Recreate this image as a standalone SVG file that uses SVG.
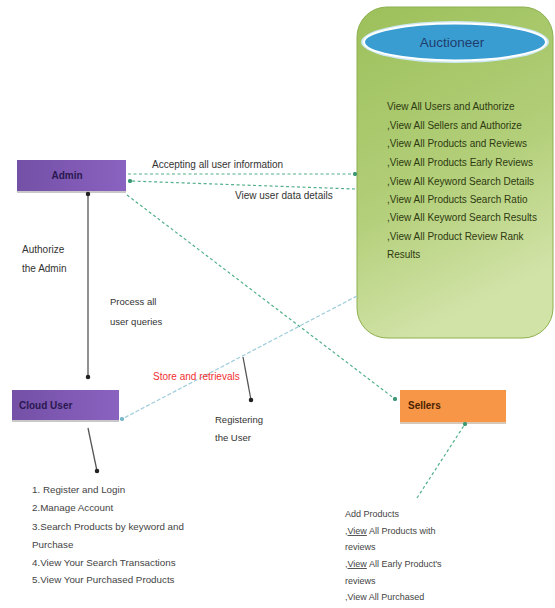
<svg xmlns="http://www.w3.org/2000/svg" width="555" height="608" viewBox="0 0 555 608">
<style>
text{font-family:"Liberation Sans",Arial,sans-serif;font-size:10px;fill:#333}
.nt{font-weight:bold;font-size:10px}
.dash{fill:none;stroke:#52B08A;stroke-width:1.2;stroke-dasharray:3 2.5}
.dashb{fill:none;stroke:#9DCCDA;stroke-width:1.2;stroke-dasharray:4 2}
.solid{fill:none;stroke:#555;stroke-width:1.3}
.auc{font-size:10px;fill:#2E3A10}
.lst{font-size:9.8px;fill:#444}
.sl{font-size:9px;fill:#444}
.lb{font-size:9.5px}
</style>
<defs>
<linearGradient id="gAuc" x1="0" y1="0" x2="0.3" y2="1">
<stop offset="0" stop-color="#9CC05A"/>
<stop offset="0.6" stop-color="#B3CF7A"/>
<stop offset="1" stop-color="#D2E3A8"/>
</linearGradient>
<linearGradient id="gPur" x1="0" y1="0" x2="1" y2="0">
<stop offset="0" stop-color="#7450A6"/>
<stop offset="1" stop-color="#8A62C0"/>
</linearGradient>
<marker id="dotG" viewBox="0 0 6 6" refX="3" refY="3" markerWidth="4" markerHeight="4"><circle cx="3" cy="3" r="2.6" fill="#3E9A74"/></marker>
<marker id="dotK" viewBox="0 0 6 6" refX="3" refY="3" markerWidth="4" markerHeight="4"><circle cx="3" cy="3" r="2.6" fill="#222"/></marker>
<marker id="dotB" viewBox="0 0 6 6" refX="3" refY="3" markerWidth="4" markerHeight="4"><circle cx="3" cy="3" r="2.6" fill="#7BB8CC"/></marker>
</defs>

<g id="auctioneer">
<rect x="357" y="7" width="196" height="331" rx="30" ry="30" fill="url(#gAuc)" stroke="#8DB04E" stroke-width="1"/>
<ellipse cx="455" cy="42" rx="94" ry="21" fill="#CFEAF6"/>
<ellipse cx="455" cy="42" rx="91" ry="18.5" fill="#3A9DD2" stroke="#FFFFFF" stroke-width="2"/>
<text x="452" y="47" text-anchor="middle" style="font-size:13.5px;fill:#1F3E6E">Auctioneer</text>
<text class="auc" x="387" y="110">View All Users and Authorize</text>
<text class="auc" x="387" y="129">,View All Sellers and Authorize</text>
<text class="auc" x="387" y="147">,View All Products and Reviews</text>
<text class="auc" x="387" y="166">,View All Products Early Reviews</text>
<text class="auc" x="387" y="185">,View All Keyword Search Details</text>
<text class="auc" x="387" y="203">,View All Products Search Ratio</text>
<text class="auc" x="387" y="221">,View All Keyword Search Results</text>
<text class="auc" x="387" y="240">,View All Product Review Rank</text>
<text class="auc" x="387" y="258">Results</text>
</g>

<g id="admin">
<rect x="17" y="160" width="109" height="33" fill="#C8C8C8"/>
<rect x="17" y="160" width="109" height="31" fill="url(#gPur)"/>
<text class="nt" x="67" y="179" text-anchor="middle" style="fill:#2A1850">Admin</text>
</g>

<g id="cloud-user">
<rect x="12" y="390" width="107" height="32" fill="#C8C8C8"/>
<rect x="12" y="390" width="107" height="30" fill="url(#gPur)"/>
<text class="nt" x="19" y="409" style="fill:#2A1850">Cloud  User</text>
</g>

<g id="sellers">
<rect x="400" y="390" width="106" height="34" fill="#D8C8B8"/>
<rect x="400" y="390" width="106" height="32" fill="#F79646"/>
<text class="nt" x="408" y="409" style="fill:#4A2200">Sellers</text>
</g>

<g id="connectors">
<line class="dash" x1="128" y1="174" x2="355" y2="174" marker-end="url(#dotG)"/>
<line class="dash" x1="355" y1="189" x2="130" y2="181" marker-end="url(#dotG)"/>
<line class="dash" x1="127" y1="195" x2="395" y2="399" marker-end="url(#dotG)"/>
<line class="solid" x1="88" y1="194" x2="88" y2="377" marker-start="url(#dotK)" marker-end="url(#dotK)"/>
<line class="dashb" x1="357" y1="296" x2="122" y2="419" marker-end="url(#dotB)"/>
<line class="solid" x1="243" y1="357" x2="251" y2="400" marker-end="url(#dotK)"/>
<line class="solid" x1="88" y1="428" x2="97" y2="471" marker-end="url(#dotK)"/>
<line class="dash" x1="417" y1="498" x2="465" y2="424" marker-end="url(#dotG)"/>
<text x="152" y="168">Accepting all user information</text>
<text x="235" y="199">View user data details</text>
<text x="22" y="253">Authorize</text>
<text x="22" y="272">the Admin</text>
<text class="lb" x="110" y="305">Process all</text>
<text class="lb" x="110" y="325">user queries</text>
<text x="153" y="380" style="fill:#F03030">Store and retrievals</text>
<text class="lb" x="215" y="423">Registering</text>
<text class="lb" x="215" y="441">the User</text>
</g>

<g id="user-list">
<text class="lst" x="32" y="493">1. Register and Login</text>
<text class="lst" x="32" y="511">2.Manage Account</text>
<text class="lst" x="32" y="530">3.Search Products by keyword and</text>
<text class="lst" x="32" y="548">Purchase</text>
<text class="lst" x="32" y="566">4.View Your Search Transactions</text>
<text class="lst" x="32" y="583">5.View Your Purchased Products</text>
</g>

<g id="seller-list">
<text class="sl" x="345" y="517">Add Products</text>
<text class="sl" x="345" y="534">,<tspan text-decoration="underline">View</tspan> All Products with</text>
<text class="sl" x="345" y="550">reviews</text>
<text class="sl" x="345" y="567">,<tspan text-decoration="underline">View</tspan> All Early Product's</text>
<text class="sl" x="345" y="584">reviews</text>
<text class="sl" x="345" y="600">,View All Purchased</text>
</g>
</svg>
